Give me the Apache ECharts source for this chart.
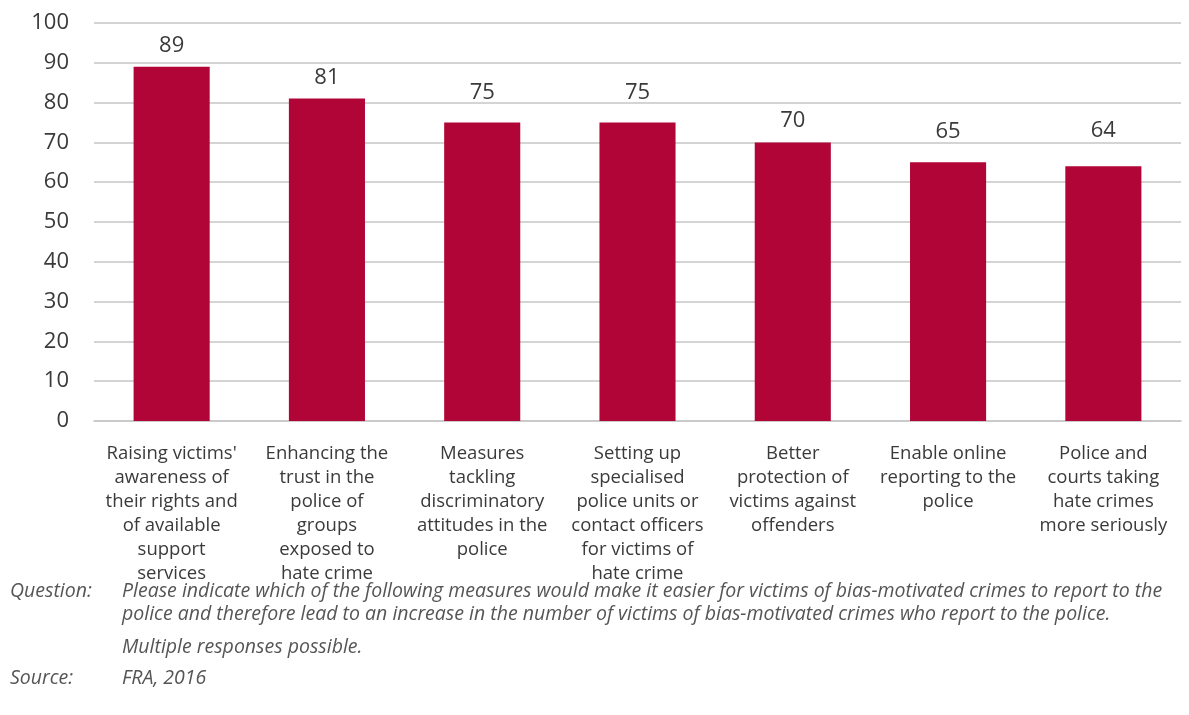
<!DOCTYPE html>
<html><head><meta charset="utf-8">
<script src="https://cdn.jsdelivr.net/npm/echarts@6/dist/echarts.min.js"></script>
<style>html,body{margin:0;padding:0;background:#fff}#c{width:1189px;height:715px}</style>
</head><body><div id="c"></div>
<script>
const categories = [
  "Raising victims'\nawareness of\ntheir rights and\nof available\nsupport\nservices",
  "Enhancing the\ntrust in the\npolice of\ngroups\nexposed to\nhate crime",
  "Measures\ntackling\ndiscriminatory\nattitudes in the\npolice",
  "Setting up\nspecialised\npolice units or\ncontact officers\nfor victims of\nhate crime",
  "Better\nprotection of\nvictims against\noffenders",
  "Enable online\nreporting to the\npolice",
  "Police and\ncourts taking\nhate crimes\nmore seriously"
];
const values = [89, 81, 75, 75, 70, 65, 64];
const yTicks = {min: 0, max: 100, interval: 10};
const noteQuestionLines = [
  "Please indicate which of the following measures would make it easier for victims of bias-motivated crimes to report to the",
  "police and therefore lead to an increase in the number of victims of bias-motivated crimes who report to the police."
];
const noteMultiple = "Multiple responses possible.";
const noteSource = "FRA, 2016";

const FONT = "'Open Sans', 'Noto Sans', sans-serif";
const NOTE_FONT = 'italic 19.5px ' + FONT;
// label placement tweaks (style only), matching the hand-placed labels of the original
const labelDistances = [10, 10, 19, 19, 11, 20, 25];
const chart = echarts.init(document.getElementById('c'), null, {renderer: 'canvas'});
chart.setOption({
  animation: false,
  grid: {left: 94, right: 8, top: 23, bottom: 294, containLabel: false},
  xAxis: {
    type: 'category', data: categories,
    axisLine: {show: true, lineStyle: {color: '#c6c6c6', width: 1.5}},
    axisTick: {show: false},
    axisLabel: {interval: 0, color: '#3a3a3a', fontFamily: FONT, fontSize: 18.5, lineHeight: 24, margin: 21, align: 'center', verticalAlign: 'top'}
  },
  yAxis: {
    type: 'value', min: yTicks.min, max: yTicks.max, interval: yTicks.interval,
    axisLine: {show: false}, axisTick: {show: false},
    splitLine: {lineStyle: {color: '#c6c6c6', width: 1.5}},
    axisLabel: {color: '#3a3a3a', fontFamily: FONT, fontSize: 22, margin: 25}
  },
  series: [{
    type: 'bar',
    data: values.map((v, i) => ({value: v, label: {distance: labelDistances[i]}})),
    barWidth: '49%',
    itemStyle: {color: '#b10537'},
    label: {show: true, position: 'top', distance: 10, color: '#3a3a3a', fontFamily: FONT, fontSize: 22}
  }],
  graphic: [
    {type: 'text', left: 10, top: 580, style: {text: 'Question:', font: NOTE_FONT, fill: '#555', lineHeight: 23}},
    {type: 'text', left: 122, top: 580, style: {text: noteQuestionLines.join('\n'), font: NOTE_FONT, fill: '#555', lineHeight: 23}},
    {type: 'text', left: 122, top: 637, style: {text: noteMultiple, font: NOTE_FONT, fill: '#555'}},
    {type: 'text', left: 10, top: 668, style: {text: 'Source:', font: NOTE_FONT, fill: '#555'}},
    {type: 'text', left: 122, top: 668, style: {text: noteSource, font: NOTE_FONT, fill: '#555'}}
  ]
});
</script></body></html>
